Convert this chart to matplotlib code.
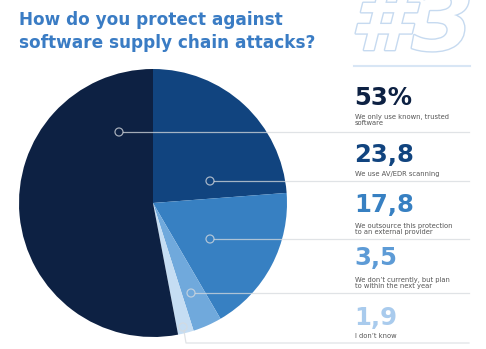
import matplotlib
matplotlib.use("Agg")
import matplotlib.pyplot as plt
import matplotlib.patheffects as pe
from matplotlib.patches import Circle

# data
categories = [
    "We only use known, trusted\nsoftware",
    "We use AV/EDR scanning",
    "We outsource this protection\nto an external provider",
    "We don\u2019t currently, but plan\nto within the next year",
    "I don\u2019t know",
]
values = [53, 23.8, 17.8, 3.5, 1.9]
value_labels = ["53%", "23,8", "17,8", "3,5", "1,9"]
colors = ["#0d2143", "#11447f", "#3780c2", "#70a9dc", "#c5ddf3"]
num_colors = ["#0d2143", "#11447f", "#3780c2", "#5d9bd6", "#a9cbed"]

W, H = 486, 349
fig = plt.figure(figsize=(W / 100, H / 100), dpi=100)

# pie: centre (153, 203) px, radius 134 px
cx, cy, r = 153, 203, 134
ax_pie = fig.add_axes([(cx - r) / W, (H - cy - r) / H, 2 * r / W, 2 * r / H])
order = [1, 2, 3, 4, 0]  # clockwise from the top
ax_pie.pie([values[i] for i in order], colors=[colors[i] for i in order],
           startangle=90, counterclock=False, radius=1,
           wedgeprops=dict(linewidth=0))
ax_pie.set_xlim(-1, 1)
ax_pie.set_ylim(-1, 1)
ax_pie.axis("off")

# overlay in pixel coords
ax = fig.add_axes([0, 0, 1, 1])
ax.set_xlim(0, W)
ax.set_ylim(H, 0)
ax.axis("off")
ax.set_zorder(3)
ax.patch.set_visible(False)

title_col = "#3a7cc4"
ax.text(19, 20, "How do you protect against", color=title_col, fontsize=12.2,
        fontweight="bold", va="center", ha="left")
ax.text(19, 43, "software supply chain attacks?", color=title_col, fontsize=12.2,
        fontweight="bold", va="center", ha="left")

# outlined "#3" (top cut by the edge, as in the original)
ax.text(350, 50, "#3", fontsize=64, style="italic", fontweight="bold",
        color="white", va="baseline", ha="left",
        path_effects=[pe.withStroke(linewidth=2, foreground="#c6daf0")])
ax.plot([354, 470], [66, 66], color="#d8e6f5", lw=1.5)

# leader markers and separators
marks = [(119, 132), (210, 181), (210, 239), (191, 293), (183, 327)]
sep_y = [132, 181, 239, 293, 343]
num_y = [98, 155, 205, 258, 318]
sub_y = [120, 174, 229, 283, 336]
line_col = "#d6dade"
for i in range(5):
    mx, my = marks[i]
    ax.add_patch(Circle((mx, my), 4, facecolor="none", edgecolor=line_col,
                        lw=0.9, alpha=0.75))
    if i == 4:
        ax.plot([mx + 1, 186, 469], [my + 4, sep_y[i], sep_y[i]], color=line_col,
                lw=0.9, alpha=0.75)
    else:
        ax.plot([mx + 4, 469], [my, sep_y[i]], color=line_col, lw=0.9, alpha=0.75)
    ax.text(354, num_y[i], value_labels[i], color=num_colors[i], fontsize=17.5,
            fontweight="bold", va="center", ha="left")
    ax.text(355, sub_y[i], categories[i], color="#555555", fontsize=4.9,
            va="center", ha="left", linespacing=1.15)

fig.savefig("out.png", dpi=100)
